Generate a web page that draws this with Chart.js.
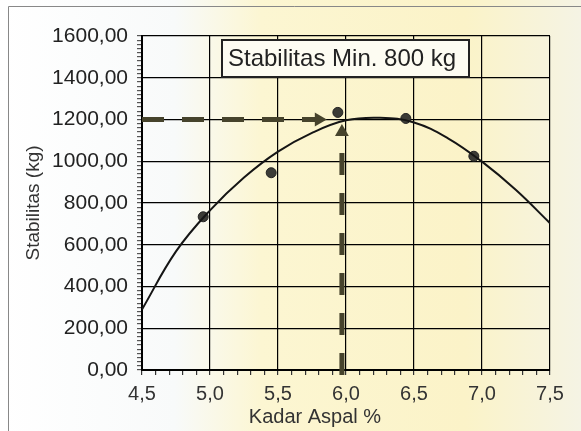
<!DOCTYPE html>
<html>
<head>
<meta charset="utf-8">
<script src="https://cdn.jsdelivr.net/npm/chart.js@4.4.1/dist/chart.umd.min.js"></script>
<style>
  html, body { margin: 0; padding: 0; background: #fff; }
</style>
</head>
<body>
<canvas id="grafik" width="581" height="431"></canvas>
<script>
// titik hasil uji marshall
const kadarAspal = [4.95, 5.45, 5.94, 6.44, 6.94];
const stabilitas = [734, 945, 1234, 1205, 1024];

// garis trend
const trendX = [4.5, 4.75, 5.0, 5.25, 5.5, 5.75, 6.0, 6.25, 6.5, 6.75, 7.0, 7.25, 7.5];
const trendY = [290, 568, 765, 922, 1046, 1136, 1196, 1208, 1186, 1110, 998, 862, 703];

// garis bantu (panah horizontal & vertikal)
const panahHorizX = [4.5, 5.8];
const panahHorizY = [1200, 1200];
const panahVertX = [5.97, 5.97];
const panahVertY = [1140, -35];

const judulX = "Kadar Aspal %";
const judulY = "Stabilitas (kg)";
const labelKotak = "Stabilitas Min. 800 kg";

const FONT = "'Liberation Sans', Arial, sans-serif";
const warnaPanah = "#46432c";

const toPoints = (xs, ys) => xs.map((x, i) => ({ x: x, y: ys[i] }));
const isMajorX = v => Math.abs(v * 2 - Math.round(v * 2)) < 1e-6;
const isMajorY = v => Math.abs(v / 200 - Math.round(v / 200)) < 1e-6;

// latar belakang kertas scan
const latar = {
    id: "latar",
    beforeDraw(chart) {
        const { ctx, width, height } = chart;
        const g = ctx.createLinearGradient(0, 0, width, 0);
        g.addColorStop(0, "#ffffff");
        g.addColorStop(0.3, "#f8fafa");
        g.addColorStop(0.45, "#fcf6d2");
        g.addColorStop(0.8, "#fbf3c8");
        g.addColorStop(1, "#f5f3e4");
        ctx.save();
        ctx.fillStyle = g;
        ctx.fillRect(0, 0, width, height);
        ctx.strokeStyle = "#888";
        ctx.lineWidth = 1;
        ctx.beginPath();
        ctx.moveTo(8.5, height);
        ctx.lineTo(8.5, 6.5);
        ctx.lineTo(width, 6.5);
        ctx.stroke();
        ctx.restore();
    }
};

// kotak keterangan + judul sumbu x
const keterangan = {
    id: "keterangan",
    afterDraw(chart) {
        const { ctx, chartArea } = chart;
        ctx.save();
        const bx = chartArea.left + 80, by = chartArea.top + 4;
        ctx.fillStyle = "#fdfcf2";
        ctx.fillRect(bx, by, 247, 37);
        ctx.strokeStyle = "#222";
        ctx.lineWidth = 2;
        ctx.strokeRect(bx, by, 247, 37);
        ctx.fillStyle = "#222";
        ctx.font = "24px " + FONT;
        ctx.textBaseline = "middle";
        ctx.textAlign = "left";
        ctx.fillText(labelKotak, bx + 6, by + 19);

        ctx.fillStyle = "#333";
        ctx.font = "20px " + FONT;
        ctx.textAlign = "center";
        ctx.fillText(judulX, chartArea.left + 173, chartArea.bottom + 47);
        ctx.restore();
    }
};

new Chart(document.getElementById("grafik"), {
    type: "scatter",
    data: {
        datasets: [
            {
                type: "line",
                data: toPoints(panahHorizX, panahHorizY),
                borderColor: warnaPanah,
                backgroundColor: warnaPanah,
                borderWidth: 5,
                borderDash: [22, 18],
                pointRadius: [0, 8],
                pointStyle: "triangle",
                pointRotation: 90,
                pointBorderWidth: 0
            },
            {
                type: "line",
                data: toPoints(panahVertX, panahVertY),
                borderColor: warnaPanah,
                backgroundColor: warnaPanah,
                borderWidth: 5,
                borderDash: [22, 18],
                borderDashOffset: 19,
                pointRadius: [8, 0],
                pointStyle: "triangle",
                pointRotation: 0,
                pointBorderWidth: 0,
                clip: false
            },
            {
                type: "line",
                data: toPoints(trendX, trendY),
                borderColor: "#151515",
                borderWidth: 2,
                pointRadius: 0,
                tension: 0.4,
                fill: false
            },
            {
                data: toPoints(kadarAspal, stabilitas),
                backgroundColor: "#3b3b36",
                borderColor: "#222",
                borderWidth: 1,
                pointRadius: 5
            }
        ]
    },
    options: {
        responsive: false,
        animation: false,
        layout: { padding: { top: 36, right: 31, left: 0, bottom: 0 } },
        plugins: { legend: { display: false }, tooltip: { enabled: false } },
        scales: {
            x: {
                type: "linear",
                min: 4.5,
                max: 7.5,
                afterFit: s => { s.height = 61; },
                ticks: {
                    stepSize: 0.1,
                    maxTicksLimit: 31,
                    autoSkip: false,
                    maxRotation: 0,
                    padding: 7,
                    color: "#333",
                    font: { family: FONT, size: 20 },
                    callback: v => isMajorX(v) ? v.toFixed(1).replace(".", ",") : ""
                },
                grid: {
                    color: c => (c.tick && isMajorX(c.tick.value)) ? "#000" : "rgba(0,0,0,0)",
                    tickColor: "#333",
                    tickLength: 5,
                    lineWidth: 1.2
                },
                border: { color: "#000", width: 2 }
            },
            y: {
                min: 0,
                max: 1600,
                afterFit: s => { s.width = 142; },
                ticks: {
                    stepSize: 20,
                    maxTicksLimit: 81,
                    autoSkip: false,
                    padding: 9,
                    color: "#222",
                    font: { family: FONT, size: 21 },
                    callback: v => isMajorY(v) ? v.toFixed(2).replace(".", ",") : ""
                },
                grid: {
                    color: c => (c.tick && isMajorY(c.tick.value)) ? "#000" : "rgba(0,0,0,0)",
                    tickColor: "#555",
                    tickLength: 5,
                    lineWidth: 1.2
                },
                border: { color: "#000", width: 2 },
                title: {
                    display: true,
                    text: judulY,
                    color: "#333",
                    font: { family: FONT, size: 19 },
                    padding: { top: 22, bottom: 0 }
                }
            }
        }
    },
    plugins: [latar, keterangan]
});
</script>
</body>
</html>
